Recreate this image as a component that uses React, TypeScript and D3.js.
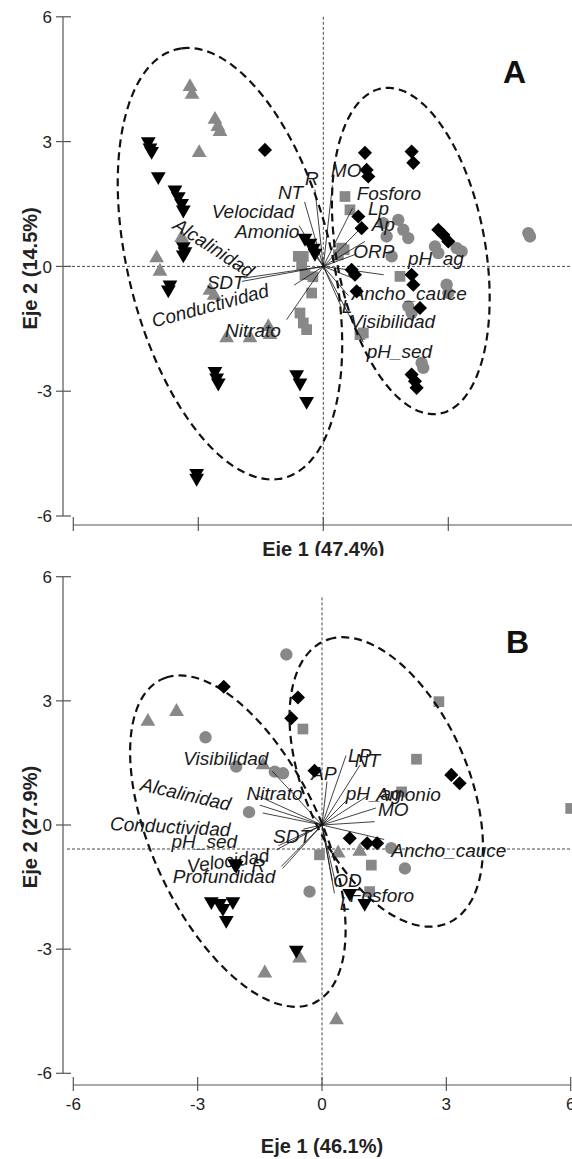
import React from "react";
import * as d3 from "d3";

type P = [number, number];

// ---- panel A : site scores (Eje 1, Eje 2)
const aSquares: P[] = [
  [0.52, 1.68], [0.64, 1.36], [0.44, 0.44], [0.36, 0.28], [0.5, 0.4], [-0.48, 0.24], [-0.52, 0.04],
  [-0.44, -0.2], [-0.28, -0.64], [-0.56, -1.12], [-0.48, -1.36], [-0.4, -1.52], [0.88, -1.64],
  [1.84, -0.24], [0.96, -1.6], [-0.6, 0.24], [-0.25, -0.25],
];
const aCircles: P[] = [
  [1.8, 1.12], [1.92, 0.88], [2.04, 0.68], [1.44, 1.04], [1.52, 0.72], [1.64, 0.24], [2.68, 0.48],
  [2.76, 0.32], [3.2, 0.44], [3.32, 0.36], [2.96, -0.44], [3.0, -0.64], [2.04, -0.96], [2.12, -1.12],
  [2.36, -2.32], [2.4, -2.44], [4.92, 0.8], [4.96, 0.72],
];
const aTriGray: P[] = [
  [-3.2, 4.32], [-3.15, 4.13], [-2.6, 3.53], [-2.53, 3.36], [-2.48, 3.24], [-2.98, 2.73], [-4.0, 0.2],
  [-3.92, -0.12], [-3.4, 0.69], [-2.72, -0.58], [-2.62, -0.7], [-2.32, -1.72], [-1.76, -1.72],
  [-1.32, -1.45], [-1.28, -1.64],
];
const aDiamonds: P[] = [
  [-1.4, 2.8], [1.0, 2.73], [2.12, 2.76], [2.16, 2.49], [1.04, 2.32], [1.08, 2.16], [0.84, 1.2],
  [0.92, 0.92], [2.76, 0.88], [2.88, 0.76], [3.0, 0.6], [0.68, -0.08], [0.76, -0.2], [0.8, -0.6],
  [2.12, -0.2], [2.16, -0.44], [2.32, -1.0], [2.12, -2.6], [2.2, -2.76], [2.24, -2.92],
];
const aTriBlack: P[] = [
  [-4.2, 3.0], [-4.16, 2.85], [-4.12, 2.77], [-3.96, 2.16], [-3.56, 1.84], [-3.48, 1.68], [-3.4, 1.52],
  [-3.36, 1.36], [-3.36, 0.48], [-3.32, 0.36], [-3.36, 0.28], [-0.44, 0.68], [-0.32, 0.56],
  [-0.24, 0.44], [-0.2, 0.32], [-3.68, -0.44], [-3.72, -0.56], [-2.6, -2.52], [-2.56, -2.68],
  [-2.52, -2.8], [-0.64, -2.6], [-0.56, -2.8], [-0.4, -3.24], [-3.04, -4.97], [-3.04, -5.09],
];
// environmental vectors: name, x, y
const aVectors: [string, number, number][] = [
  ["MO", 0.22, 1.95], ["R", -0.2, 1.85], ["NT", -0.45, 1.55], ["Velocidad", -0.58, 0.98],
  ["Amonio", -0.45, 0.62], ["Alcalinidad", -1.9, -0.28], ["SDT", -1.95, -0.36],
  ["Conductividad", -0.7, -0.45], ["Nitrato", -0.88, -1.28], ["Fosforo", 0.7, 1.4], ["Lp", 0.84, 0.86],
  ["Ap", 1.0, 0.6], ["ORP", 0.8, 0.3], ["pH_ag", 1.45, -0.2], ["Ancho_cauce", 0.75, -0.3],
  ["L", 0.42, -0.95], ["Visibilidad", 0.6, -0.7], ["pH_sed", 0.96, -1.82],
];
// labels: text, x, y, rotation
const aLabels: [string, number, number, number][] = [
  ["MO", 0.18, 2.16, 0], ["R", -0.44, 1.96, 0], ["NT", -1.09, 1.62, 0], ["Velocidad", -2.68, 1.17, 0],
  ["Amonio", -2.12, 0.69, 0], ["Alcalinidad", -3.64, 0.92, 33], ["SDT", -2.8, -0.54, 0],
  ["Conductividad", -4.07, -1.47, -15], ["Nitrato", -2.36, -1.69, 0], ["Fosforo", 0.8, 1.6, 0],
  ["Lp", 1.07, 1.24, 0], ["Ap", 1.16, 0.86, 0], ["ORP", 0.72, 0.21, 0], ["pH_ag", 2.03, 0.04, 0],
  ["Ancho_cauce", 0.68, -0.8, 0], ["L", 0.44, -1.11, 0], ["Visibilidad", 0.64, -1.47, 0],
  ["pH_sed", 1.04, -2.2, 0],
];
// group ellipses: cx, cy, semi-major, semi-minor, tilt (deg)
const aEllipses: [number, number, number, number, number][] = [
  [-2.24, 0.065, 5.31, 2.44, 14],
  [2.1, 0.37, 3.97, 1.79, 10],
];

// ---- panel B
const bSquares: P[] = [
  [-0.46, 2.32], [2.82, 2.98], [2.28, 1.59], [1.92, 0.8], [6.0, 0.4], [-0.06, -0.72], [1.19, -0.97],
  [1.15, -1.61],
];
const bCircles: P[] = [
  [-0.86, 4.12], [-2.81, 2.12], [-2.07, 1.41], [-1.14, 1.29], [-0.94, 1.25], [-1.76, 0.31],
  [2.0, -1.05], [-0.3, -1.61], [1.67, -0.56],
];
const bTriGray: P[] = [
  [-4.2, 2.5], [-3.51, 2.74], [-1.42, 1.45], [0.39, -0.68], [0.91, -0.64], [-0.54, -3.22],
  [-1.38, -3.58], [0.35, -4.71],
];
const bDiamonds: P[] = [
  [-2.37, 3.34], [-0.58, 3.08], [-0.74, 2.58], [-0.18, 1.31], [3.12, 1.21], [3.32, 1.01],
  [0.67, -0.32], [1.09, -0.44], [1.33, -0.44],
];
const bTriBlack: P[] = [
  [-2.11, -0.93], [-2.07, -0.97], [-2.67, -1.85], [-2.47, -1.89], [-2.15, -1.85], [-2.39, -2.01],
  [-2.31, -2.3], [0.67, -1.65], [1.03, -1.89], [-0.62, -3.02],
];
const bVectors: [string, number, number][] = [
  ["LP", 0.58, 1.68], ["NT", 0.92, 1.45], ["AP", 0.12, 1.05], ["pH_ag", 0.6, 0.6], ["Amonio", 1.1, 0.7],
  ["MO", 1.3, 0.41], ["", 1.27, 0.08], ["Ancho_cauce", 1.5, -0.35], ["Visibilidad", -1.2, 1.3],
  ["Nitrato", -1.58, 0.72], ["Alcalinidad", -1.5, 0.48], ["Conductividad", -1.43, 0.29],
  ["SDT", -0.45, -0.1], ["pH_sed", -1.1, -0.6], ["Velocidad", -1.05, -0.5], ["R", -0.98, -1.0],
  ["Profundidad", -0.95, -1.05], ["OD", 0.35, -1.5], ["Fosforo", 0.3, -1.65], ["L", 0.25, -1.35],
];
const bLabels: [string, number, number, number][] = [
  ["Visibilidad", -3.35, 1.45, 0], ["AP", -0.26, 1.09, 0], ["Alcalinidad", -4.4, 0.84, 13],
  ["Nitrato", -1.82, 0.6, 0], ["Conductividad", -5.12, -0.12, 3], ["pH_sed", -3.63, -0.56, 0],
  ["SDT", -1.18, -0.43, 0], ["Velocidad", -3.23, -1.16, -8], ["R", -1.7, -1.14, 0],
  ["Profundidad", -3.6, -1.4, 0], ["LP", 0.63, 1.52, 0], ["NT", 0.79, 1.4, 0], ["pH_ag", 0.57, 0.6, 0],
  ["Amonio", 1.31, 0.58, 0], ["MO", 1.35, 0.22, 0], ["Ancho_cauce", 1.67, -0.77, 0],
  ["OD", 0.27, -1.5, 0], ["Fosforo", 0.67, -1.86, 0], ["L", 0.43, -2.05, 0],
];
const bEllipses: [number, number, number, number, number][] = [
  [-2.03, -0.39, 4.32, 2.03, 25.2],
  [1.55, 1.04, 3.72, 1.96, 23.6],
];

const ticks = [-6, -3, 0, 3, 6];

const GRAY = "#888888";
const FONT = "'Liberation Sans', Arial, sans-serif";

function ellipsePath(e: number[], x: any, y: any) {
  const [cx, cy, a, b, tilt] = e;
  const f = (tilt * Math.PI) / 180;
  const pts: [number, number][] = d3.range(0, 361, 3).map((deg) => {
    const t = (deg * Math.PI) / 180;
    const px = cx - a * Math.cos(t) * Math.sin(f) + b * Math.sin(t) * Math.cos(f);
    const py = cy + a * Math.cos(t) * Math.cos(f) + b * Math.sin(t) * Math.sin(f);
    return [x(px), y(py)];
  });
  return d3.line().curve(d3.curveCardinalClosed)(pts.slice(0, -1)) || "";
}

const triPath = d3.symbol().type(d3.symbolTriangle).size(95)() || "";
const sqPath = d3.symbol().type(d3.symbolSquare).size(115)() || "";
const diaPath = d3.symbol().type(d3.symbolSquare).size(100)() || "";
const cirPath = d3.symbol().type(d3.symbolCircle).size(120)() || "";

function Panel(props: any) {
  const { xr, yr, axisY, sq, ci, tg, di, tb, vecs, labels, ells, letter, letterPos, xTitle, xTitleY, yTitle, xTickLabels, hDash, vTop } = props;
  const x = d3.scaleLinear().domain([-6, 6]).range(xr);
  const y = d3.scaleLinear().domain([-6, 6]).range(yr);
  const ox = x(0);
  const oy = y(0);
  return (
    <g fontFamily={FONT}>
      {/* reference dashes */}
      <line x1={67} x2={572} y1={y(hDash)} y2={y(hDash)} stroke="#333" strokeWidth={0.9} strokeDasharray="3 2" />
      <line x1={ox} x2={ox} y1={y(vTop)} y2={axisY} stroke="#333" strokeWidth={0.9} strokeDasharray="3 2" />

      {/* axes */}
      <line x1={63} x2={63} y1={y(6)} y2={y(-6)} stroke="#555" strokeWidth={1.2} />
      {ticks.map((t) => (
        <g key={"yt" + t}>
          <line x1={56} x2={71} y1={y(t)} y2={y(t)} stroke="#555" strokeWidth={1.2} />
          <text x={52} y={y(t)} dy="0.36em" textAnchor="end" fontSize={17} fill="#222">{t}</text>
        </g>
      ))}
      <line x1={x(-6)} x2={x(6)} y1={axisY} y2={axisY} stroke="#555" strokeWidth={1.2} />
      {ticks.map((t) => (
        <g key={"xt" + t}>
          <line x1={x(t)} x2={x(t)} y1={axisY - 8} y2={axisY + 6} stroke="#555" strokeWidth={1.2} />
          {xTickLabels && (
            <text x={x(t)} y={axisY + 25} textAnchor="middle" fontSize={17} fill="#222">{t}</text>
          )}
        </g>
      ))}
      <text x={ox} y={xTitleY} textAnchor="middle" fontSize={20} fontWeight="bold" fill="#222">{xTitle}</text>
      <text transform={`translate(37,${oy + 2}) rotate(-90)`} textAnchor="middle" fontSize={20} fontWeight="bold" fill="#222">{yTitle}</text>
      <text x={letterPos[0]} y={letterPos[1]} fontSize={32} fontWeight="bold" fill="#111">{letter}</text>

      {/* gray sites */}
      {sq.map((d: P, i: number) => (
        <path key={"s" + i} d={sqPath} transform={`translate(${x(d[0])},${y(d[1])})`} fill={GRAY} />
      ))}
      {ci.map((d: P, i: number) => (
        <path key={"c" + i} d={cirPath} transform={`translate(${x(d[0])},${y(d[1])})`} fill={GRAY} />
      ))}
      {tg.map((d: P, i: number) => (
        <path key={"g" + i} d={triPath} transform={`translate(${x(d[0])},${y(d[1])})`} fill={GRAY} />
      ))}

      {/* groups */}
      {ells.map((e: number[], i: number) => (
        <path key={"e" + i} d={ellipsePath(e, x, y)} fill="none" stroke="#111" strokeWidth={2.2} strokeDasharray="8 5" />
      ))}

      {/* vectors */}
      {vecs.map((v: [string, number, number], i: number) => (
        <line key={"v" + i} x1={ox} y1={oy} x2={x(v[1])} y2={y(v[2])} stroke="#111" strokeWidth={0.8} />
      ))}
      {labels.map((l: [string, number, number, number], i: number) => (
        <text key={"l" + i} transform={`translate(${x(l[1])},${y(l[2])}) rotate(${l[3]})`} fontSize={19} fontStyle="italic" fill="#1a1a1a">{l[0]}</text>
      ))}

      {/* black sites */}
      {di.map((d: P, i: number) => (
        <path key={"d" + i} d={diaPath} transform={`translate(${x(d[0])},${y(d[1])}) rotate(45)`} fill="#000" />
      ))}
      {tb.map((d: P, i: number) => (
        <path key={"t" + i} d={triPath} transform={`translate(${x(d[0])},${y(d[1])}) rotate(180)`} fill="#000" />
      ))}
    </g>
  );
}

export default function App() {
  return (
    <svg width={572} height={1159} style={{ position: "absolute", left: 0, top: 0, background: "#fff" }}>
      <rect width={572} height={1159} fill="#fff" />
      <Panel
        xr={[73.3, 573.3]} yr={[516, 16.8]} axisY={525}
        sq={aSquares} ci={aCircles} tg={aTriGray} di={aDiamonds} tb={aTriBlack}
        vecs={aVectors} labels={aLabels} ells={aEllipses}
        letter="A" letterPos={[503, 83]}
        xTitle="Eje 1 (47.4%)" xTitleY={556} yTitle="Eje 2 (14.5%)" xTickLabels={false}
        hDash={0} vTop={6}
      />
      <rect x={0} y={556} width={572} height={603} fill="#fff" />
      <Panel
        xr={[73.3, 570.7]} yr={[1073.3, 576.7]} axisY={1085}
        sq={bSquares} ci={bCircles} tg={bTriGray} di={bDiamonds} tb={bTriBlack}
        vecs={bVectors} labels={bLabels} ells={bEllipses}
        letter="B" letterPos={[506, 653]}
        xTitle="Eje 1 (46.1%)" xTitleY={1153} yTitle="Eje 2 (27.9%)" xTickLabels={true}
        hDash={-0.58} vTop={5.5}
      />
    </svg>
  );
}
